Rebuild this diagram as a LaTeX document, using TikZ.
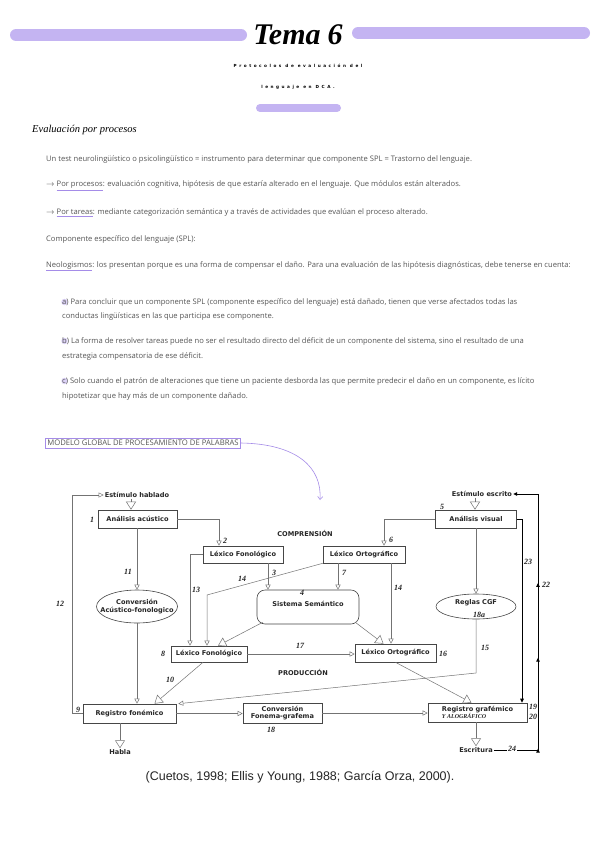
\documentclass[tikz,border=0pt]{standalone}
\usepackage{fontspec}
\setmainfont{Open Sans}
\newfontfamily\bodyf{Open Sans}
\newfontfamily\diagf{DejaVu Sans}
\newfontfamily\capf{Liberation Sans}
\newfontfamily\serf{Liberation Serif}
\newfontfamily\spacef[LetterSpace=60]{DejaVu Sans}
\usetikzlibrary{arrows.meta,shapes.geometric,decorations.markings,calc}
\definecolor{lav}{RGB}{196,180,242}
\definecolor{purp}{RGB}{165,140,232}
\definecolor{txt}{RGB}{85,85,85}
\definecolor{dline}{RGB}{115,115,115}
\definecolor{dbox}{RGB}{70,70,70}
\newcommand{\pul}[1]{\textcolor{purp}{\underline{\textcolor{txt}{#1}}}}
\tikzset{
 body/.style={font=\bodyf\fontsize{7.6}{8.5}\selectfont, text=txt, anchor=west, inner sep=0pt},
 dbx/.style={draw=dbox, line width=0.6pt, font=\diagf\bfseries\fontsize{6.6}{7.6}\selectfont, inner sep=0pt, align=center, text=black!85},
 dtxt/.style={font=\diagf\bfseries\fontsize{6.6}{7.6}\selectfont, inner sep=1pt, text=black!85, align=center},
 hnum/.style={font=\serf\bfseries\itshape\fontsize{8}{8}\selectfont, inner sep=0pt, text=black!85},
 dl/.style={draw=dline, line width=0.5pt},
 otri/.style={dl, -{Triangle[open, length=5pt, width=5pt]}},
 btri/.style={dl, -{Triangle[open, length=8pt, width=10pt]}},
 ftri/.style={draw=black, line width=0.9pt, -{Triangle[length=4pt,width=3.5pt]}},
 barline/.style={line width=12pt, line cap=round, draw=lav},
}
\begin{document}
\begin{tikzpicture}[x=1pt,y=-1pt]
\useasboundingbox (0,0) rectangle (599,848);
\fill[white] (0,0) rectangle (599,848);
% header
\draw[barline] (16,35) -- (241,35);
\draw[barline] (358,33) -- (584,33);
\node[font=\serf\bfseries\itshape\fontsize{30}{30}\selectfont, inner sep=0pt] (title) at (298,35) {Tema\hspace{7pt}6};
\node[font=\spacef\bfseries\fontsize{4.2}{5}\selectfont, inner sep=0pt] (sub1) at (298,66) {Protocolos de evaluación del};
\node[font=\spacef\bfseries\fontsize{4.2}{5}\selectfont, inner sep=0pt] (sub2) at (298,87) {lenguaje en DCA.};
\draw[line width=8pt, line cap=round, draw=lav] (260,108) -- (337,108);
% heading
\node[font=\serf\itshape\fontsize{10.5}{11}\selectfont, anchor=west, inner sep=0pt] (head) at (32,130) {Evaluación por procesos};
% body
\node[body] (t1) at (46,160) {Un test neurolingüístico o psicolingüístico = instrumento para determinar que componente SPL = Trastorno del lenguaje.};
\node[body] (t2) at (46,186) {$\rightarrow$ \pul{Por procesos}: evaluación cognitiva, hipótesis de que estaría alterado en el lenguaje. Que módulos están alterados.};
\node[body] (t3) at (46,213) {$\rightarrow$ \pul{Por tareas}: mediante categorización semántica y a través de actividades que evalúan el proceso alterado.};
\node[body] (t4) at (46,240) {Componente específico del lenguaje (SPL):};
\node[body] (t5) at (46,266) {\pul{Neologismos}: los presentan porque es una forma de compensar el daño. Para una evaluación de las hipótesis diagnósticas, debe tenerse en cuenta:};
\fill[lav!60] (64.5,302) circle (3.2);
\fill[lav!60] (64.5,341) circle (3.2);
\fill[lav!60] (64.5,381) circle (3.2);
\node[body] (t6) at (62,302) {a) Para concluir que un componente SPL (componente específico del lenguaje) está dañado, tienen que verse afectados todas las};
\node[body] (t7) at (62,316) {conductas lingüísticas en las que participa ese componente.};
\node[body] (t8) at (62,341) {b) La forma de resolver tareas puede no ser el resultado directo del déficit de un componente del sistema, sino el resultado de una};
\node[body] (t9) at (62,356) {estrategia compensatoria de ese déficit.};
\node[body] (t10) at (62,381) {c) Solo cuando el patrón de alteraciones que tiene un paciente desborda las que permite predecir el daño en un componente, es lícito};
\node[body] (t11) at (62,396) {hipotetizar que hay más de un componente dañado.};
% model label
\node[draw=purp, line width=0.6pt, font=\bodyf\fontsize{7.7}{8}\selectfont, text=txt, inner xsep=2pt, inner ysep=2pt, anchor=west] (mod) at (45,443) {MODELO GLOBAL DE PROCESAMIENTO DE PALABRAS};
\coordinate (kmod) at (320,500);
\draw[draw=purp, line width=0.6pt, -{Straight Barb[length=3pt,width=5pt]}] (mod.east) .. controls (298,444) and (322,468) .. (kmod);
% diagram nodes
\node[dtxt] (esth) at (137,495) {Estímulo hablado};
\node[dtxt] (estesc) at (482,494) {Estímulo escrito};
\node[dbx, minimum width=79pt, minimum height=18pt] (aac) at (137.5,519) {Análisis acústico};
\node[dbx, minimum width=81pt, minimum height=18pt] (avis) at (476,519) {Análisis visual};
\node[dtxt] (compr) at (305,533) {COMPRENSIÓN};
\node[dbx, minimum width=80pt, minimum height=17pt] (lfc) at (243,554.5) {Léxico Fonológico};
\node[dbx, minimum width=82pt, minimum height=17pt] (loc) at (364,554.5) {Léxico Ortográfico};
\node[dbx, ellipse, minimum width=81pt, minimum height=33pt] (conv) at (137,606.5) {};
\node[dtxt] (convt) at (conv.center) {Conversión\\Acústico-fonologico};
\node[dbx, rounded corners=8pt, minimum width=102pt, minimum height=34pt] (sem) at (308,607) {};
\node[dtxt] (semt) at (308,604) {Sistema Semántico};
\node[dbx, ellipse, minimum width=80pt, minimum height=25pt] (cgf) at (476,606.5) {};
\node[dtxt] (cgft) at (476,603) {Reglas CGF};
\node[dbx, minimum width=76pt, minimum height=16pt] (lfp) at (209,654) {Léxico Fonológico};
\node[dbx, minimum width=81pt, minimum height=18pt] (lop) at (395.5,653) {Léxico Ortográfico};
\node[dtxt] (prod) at (303,672) {PRODUCCIÓN};
\node[dbx, minimum width=93pt, minimum height=19pt] (rfon) at (129.5,713.5) {Registro fonémico};
\node[dbx, minimum width=79pt, minimum height=20pt] (cfg) at (282.5,713) {Conversión\\Fonema-grafema};
\node[dbx, minimum width=99pt, minimum height=19pt, align=left] (rgra) at (477.5,712.5) {Registro grafémico\hspace{8pt}\\{\serf\bfseries\itshape\fontsize{6}{6.5}\selectfont Y ALOGRÁFICO}};
\node[dtxt] (habla) at (120,752) {Habla};
\node[dtxt] (escr) at (476,750) {Escritura};
% connectors
\draw[btri] ([xshift=-6pt]esth.south) -- ([xshift=-6pt]esth.south |- aac.north);
\draw[btri] ([xshift=-7pt]estesc.south) -- ([xshift=-7pt]estesc.south |- avis.north);
\draw[otri] (aac.east) -| ([xshift=-24pt]lfc.north);
\draw[otri] (aac.south -| conv.north) -- (conv.north);
\draw[otri] (conv.south) -- (conv.south |- rfon.north);
\draw[otri] (avis.west) -| ([xshift=20pt]loc.north);
\draw[otri] (avis.south) -- (avis.south |- cgf.north);
\draw[otri] ([xshift=25pt]lfc.south) -- ([xshift=25pt]lfc.south |- sem.north);
\draw[otri] ([xshift=-26pt]loc.south) -- ([xshift=-26pt]loc.south |- sem.north);
\draw[otri] (lfc.west) -| ([xshift=-19pt]lfp.north);
\coordinate (k14) at (207,595);
\draw[otri] (loc.south west) -- (k14) -- (k14 |- lfp.north);
\draw[otri] ([xshift=27pt]loc.south) -- ([xshift=27pt]loc.south |- lop.north);
\draw[btri] ([xshift=6pt,yshift=2pt]sem.south west) -- ([xshift=9pt]lfp.north);
\draw[btri] ([xshift=-4pt,yshift=2pt]sem.south east) -- ([xshift=-12pt]lop.north);
\draw[otri] (lfp.east) -- (lfp.east -| lop.west);
\draw[btri] ([xshift=-6pt]lfp.south) -- ([xshift=25pt]rfon.north);
\coordinate (k15) at (476,673);
\draw[otri] (cgf.south) -- (k15) -- ([xshift=2pt]rfon.north east);
\draw[btri] (lop.south) -- ([xshift=-6pt]rgra.north);
\draw[otri] (rfon.east) -- (rfon.east -| cfg.west);
\draw[otri] (cfg.east) -- (cfg.east -| rgra.west);
\draw[btri] ([xshift=-9.5pt]rfon.south) -- (habla.north);
\draw[btri] ([xshift=-1.5pt]rgra.south) -- (escr.north);
\draw[ftri] (avis.east) -| ([xshift=44.5pt]rgra.north);
\coordinate (k12) at (72,495);
\draw[otri] (rfon.west) -| (k12) -- (esth.west);
\coordinate (k22b) at (538,750);
\coordinate (k22t) at (538,494);
\draw[ftri, postaction={decorate}, decoration={markings,
  mark=at position 0.14 with {\arrow{Triangle[length=4pt,width=3.5pt]}},
  mark=at position 0.42 with {\arrow{Triangle[length=4pt,width=3.5pt]}},
  mark=at position 0.65 with {\arrow{Triangle[length=4pt,width=3.5pt]}}}]
  (escr.east) -- (k22b) -- (k22t) -- (estesc.east);
% handwritten numbers
\node[hnum] (n1) at (92,520) {1};
\node[hnum] (n2) at (225,541) {2};
\node[hnum] (n3) at (274,573) {3};
\node[hnum] (n4) at (302,593) {4};
\node[hnum] (n5) at (442,507) {5};
\node[hnum] (n6) at (391,540) {6};
\node[hnum] (n7) at (344,573) {7};
\node[hnum] (n8) at (163,654) {8};
\node[hnum] (n9) at (78,710) {9};
\node[hnum] (n10) at (170,680) {10};
\node[hnum] (n11) at (128,572) {11};
\node[hnum] (n12) at (60,604) {12};
\node[hnum] (n13) at (196,590) {13};
\node[hnum] (n14) at (242,579) {14};
\node[hnum] (n14b) at (398,588) {14};
\node[hnum] (n15) at (485,648) {15};
\node[hnum] (n16) at (443,654) {16};
\node[hnum] (n17) at (300,646) {17};
\node[hnum] (n18) at (271,730) {18};
\node[hnum] (n18a) at (479,615) {18a};
\node[hnum] (n19) at (533,707) {19};
\node[hnum] (n20) at (533,717) {20};
\node[hnum] (n22) at (546,585) {22};
\node[hnum] (n23) at (528,562) {23};
\node[hnum, fill=white, inner xsep=1pt] (n24) at (512,749) {24};
% caption
\node[font=\capf\fontsize{12.5}{14}\selectfont, text=black!85, inner sep=0pt] (cap) at (300,777) {(Cuetos, 1998; Ellis y Young, 1988; García Orza, 2000).};
\end{tikzpicture}
\end{document}
